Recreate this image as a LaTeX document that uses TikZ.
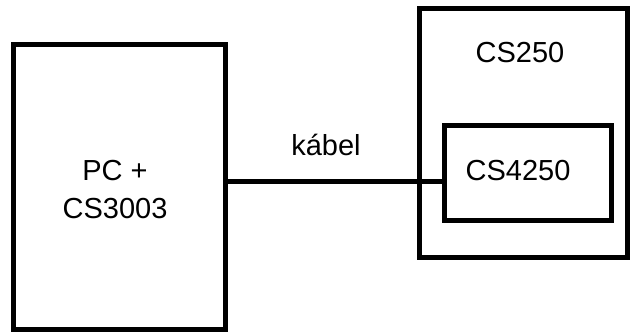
\documentclass[tikz,border=0pt]{standalone}
\usepackage{fontspec}
\setmainfont{Liberation Sans}
\begin{document}
\begin{tikzpicture}[x=0.5pt,y=-0.5pt,
  box/.style={draw=black,line width=2.5pt,rectangle,inner sep=0pt},
  lbl/.style={anchor=base,inner sep=0pt,font=\fontsize{14.5}{17}\selectfont},
  cable/.style={draw=black,line width=2.5pt}]
\useasboundingbox (0,0) rectangle (630,333);
\node[box,minimum width=106pt,minimum height=142.5pt] (pc) at (119.5,187) {};
\node[box,minimum width=104pt,minimum height=124.5pt] (cs250) at (523.5,133) {};
\node[box,minimum width=83.5pt,minimum height=47.5pt] (cs4250) at (528,173) {};
\node[lbl] (t1) at (115,180) {PC +};
\node[lbl] (t2) at (115,218) {CS3003};
\node[lbl] (t3) at (520,62) {CS250};
\node[lbl] (t4) at (518,180) {CS4250};
\node[lbl] (t5) at (326,155) {kábel};
\coordinate (c) at (0,181.5);
\draw[cable] (pc.east |- c) -- (cs4250.west |- c);
\end{tikzpicture}
\end{document}
